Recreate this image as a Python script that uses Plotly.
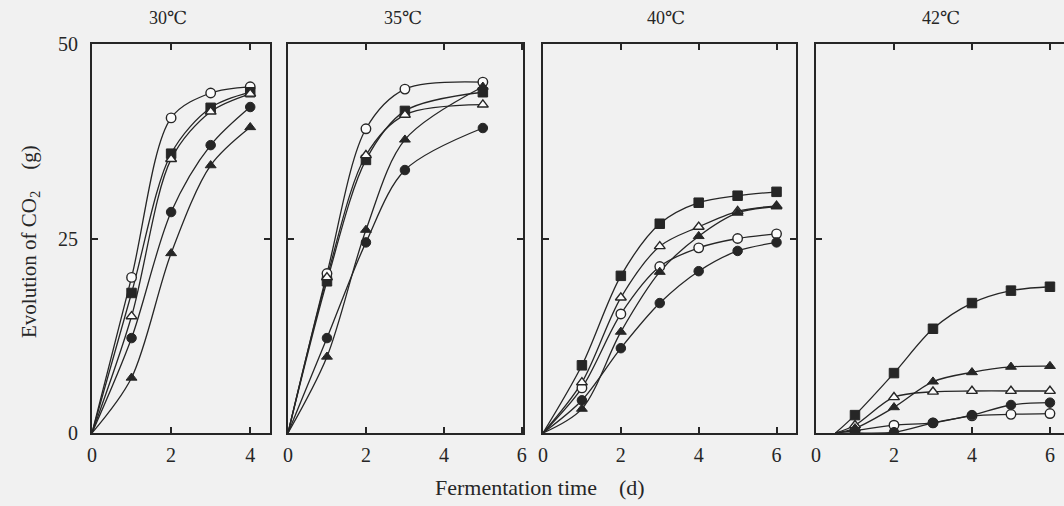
import plotly.graph_objects as go

# ---- data ----
panel_titles = ["30℃", "35℃", "40℃", "42℃"]
x_ticks = [[0, 2, 4], [0, 2, 4, 6], [0, 2, 4, 6], [0, 2, 4, 6]]
y_ticks = [0, 25, 50]

x30 = [1, 2, 3, 4]
x35 = [1, 2, 3, 5]
x40 = [1, 2, 3, 4, 5, 6]
x42 = [1, 2, 3, 4, 5, 6]
lag_start = [0, 0, 0, 0.5]   # time at which CO2 evolution starts (curve origin)

oc30 = [20.0, 40.5, 43.7, 44.5]
fs30 = [18.0, 35.9, 41.8, 43.8]
ot30 = [15.0, 35.2, 41.3, 43.6]
fc30 = [12.2, 28.4, 37.0, 41.9]
ft30 = [7.1, 23.1, 34.4, 39.3]

oc35 = [20.5, 39.1, 44.2, 45.1]
fs35 = [19.5, 35.1, 41.4, 43.8]
ot35 = [20.0, 35.7, 40.9, 42.2]
fc35 = [12.2, 24.5, 33.8, 39.2]
ft35 = [9.8, 26.1, 37.7, 44.5]

oc40 = [5.8, 15.3, 21.4, 23.8, 25.0, 25.6]
fs40 = [8.7, 20.2, 26.9, 29.6, 30.5, 31.0]
ot40 = [6.5, 17.4, 24.0, 26.5, 28.5, 29.2]
fc40 = [4.2, 10.9, 16.7, 20.8, 23.4, 24.5]
ft40 = [3.1, 13.0, 20.7, 25.3, 28.3, 29.1]

oc42 = [0.3, 1.0, 1.3, 2.2, 2.4, 2.5]
fs42 = [2.3, 7.7, 13.4, 16.7, 18.3, 18.8]
ot42 = [1.0, 4.6, 5.3, 5.4, 5.4, 5.4]
fc42 = [0.0, 0.1, 1.3, 2.3, 3.6, 3.9]
ft42 = [0.6, 3.3, 6.6, 7.8, 8.5, 8.6]

panel_x = [x30, x35, x40, x42]
panel_series = [
    [oc30, fs30, ot30, fc30, ft30],
    [oc35, fs35, ot35, fc35, ft35],
    [oc40, fs40, ot40, fc40, ft40],
    [oc42, fs42, ot42, fc42, ft42],
]

# ---- styles ----
W, H = 1064, 506
INK = "#262626"
BG = "#f1f1f1"
FONT = "Liberation Serif, DejaVu Serif, serif"
marker_styles = [
    dict(symbol="circle", color="#fbfbfb", line=dict(color=INK, width=1.4)),
    dict(symbol="square", color=INK, line=dict(color=INK, width=1)),
    dict(symbol="triangle-up", color="#fbfbfb", line=dict(color=INK, width=1.4)),
    dict(symbol="circle", color=INK, line=dict(color=INK, width=1)),
    dict(symbol="triangle-up", color=INK, line=dict(color=INK, width=1)),
]
panel_px = [(92, 270), (288, 523), (543, 796), (816, 1064)]
x_ranges = [[0, 4.5], [0, 6.03], [0, 6.5], [0, 6.36]]
y_top_px, y_bot_px = 44, 433

fig = go.Figure()
for i in range(4):
    xa = "x" if i == 0 else f"x{i+1}"
    ya = "y" if i == 0 else f"y{i+1}"
    xs = panel_x[i]
    for j, ys in enumerate(panel_series[i]):
        fig.add_trace(go.Scatter(
            x=[lag_start[i]] + xs, y=[0] + ys, mode="lines",
            line=dict(color=INK, width=1.3, shape="spline", smoothing=0.9),
            xaxis=xa, yaxis=ya, showlegend=False, hoverinfo="skip"))
    for j, ys in enumerate(panel_series[i]):
        st = marker_styles[j]
        fig.add_trace(go.Scatter(
            x=xs, y=ys, mode="markers",
            marker=dict(symbol=st["symbol"], color=st["color"], size=9.5, line=st["line"]),
            xaxis=xa, yaxis=ya, showlegend=False))

layout = dict(
    template="none",
    width=W, height=H,
    margin=dict(l=0, r=0, t=0, b=0, pad=0),
    paper_bgcolor=BG, plot_bgcolor=BG,
    font=dict(family=FONT, color=INK, size=17),
)
ydom = [(H - y_bot_px) / H, (H - y_top_px) / H]
for i in range(4):
    xk = "xaxis" if i == 0 else f"xaxis{i+1}"
    yk = "yaxis" if i == 0 else f"yaxis{i+1}"
    x0, x1 = panel_px[i]
    layout[xk] = dict(
        domain=[x0 / W, x1 / W], range=x_ranges[i], anchor="y" if i == 0 else f"y{i+1}",
        tickvals=x_ticks[i], ticktext=[str(v) for v in x_ticks[i]],
        ticks="inside", ticklen=6, tickwidth=1.5, tickcolor=INK,
        showline=True, linecolor=INK, linewidth=2, mirror="ticks",
        showgrid=False, zeroline=False, ticklabelstandoff=3, automargin=False,
        tickfont=dict(family=FONT, size=20, color=INK))
    layout[yk] = dict(
        domain=ydom, range=[0, 50], anchor="x" if i == 0 else f"x{i+1}",
        tickvals=y_ticks, ticktext=[str(v) for v in y_ticks],
        showticklabels=(i == 0),
        ticks="inside", ticklen=6, tickwidth=1.5, tickcolor=INK,
        showline=True, linecolor=INK, linewidth=2, mirror=("ticks" if i < 3 else False),
        showgrid=False, zeroline=False, ticklabelstandoff=8, automargin=False,
        tickfont=dict(family=FONT, size=20, color=INK))
fig.update_layout(**layout)

title_px = [168, 403, 666, 941]
for i, t in enumerate(panel_titles):
    fig.add_annotation(text=t, x=title_px[i] / W, y=1 - 18 / H, xref="paper", yref="paper",
                       xanchor="center", yanchor="middle",
                       showarrow=False, font=dict(family=FONT, size=18, color=INK))
fig.add_annotation(text="Fermentation time　(d)", x=540 / W, y=1 - 487 / H,
                   xref="paper", yref="paper", xanchor="center", yanchor="middle",
                   showarrow=False, font=dict(family=FONT, size=22, color=INK))
fig.add_annotation(text="Evolution of CO<sub>2</sub>　(g)", x=30 / W, y=1 - 242 / H,
                   xref="paper", yref="paper", xanchor="center", yanchor="middle",
                   showarrow=False, textangle=-90,
                   font=dict(family=FONT, size=21, color=INK))

fig.write_html("out.html", config={"displayModeBar": False},
               post_script="document.body.style.margin='0';document.body.style.overflow='hidden';")
